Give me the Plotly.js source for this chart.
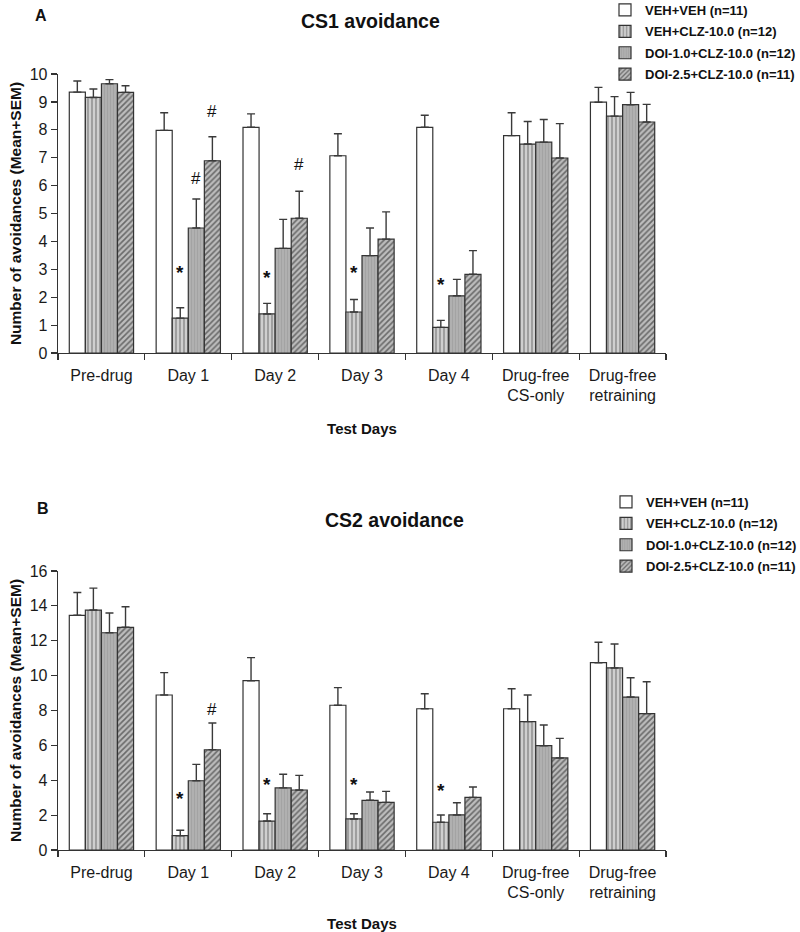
<!DOCTYPE html>
<html>
<head>
<meta charset="utf-8">
<script src="https://cdn.plot.ly/plotly-3.0.1.min.js"></script>
<style>
html,body{margin:0;padding:0;background:#fff;}
#chart{width:800px;height:932px;}
</style>
</head>
<body>
<div id="chart"></div>
<script>
// ---------- data ----------
const categories = ['Pre-drug','Day 1','Day 2','Day 3','Day 4','Drug-free<br>CS-only','Drug-free<br>retraining'];
const groups = ['VEH+VEH (n=11)','VEH+CLZ-10.0 (n=12)','DOI-1.0+CLZ-10.0 (n=12)','DOI-2.5+CLZ-10.0 (n=11)'];

// Panel A: CS1 avoidance (mean, SEM)
const cs1_veh      = [9.35, 7.98, 8.09, 7.07, 8.09, 7.79, 8.99];
const cs1_veh_sem  = [0.40, 0.63, 0.48, 0.79, 0.43, 0.82, 0.53];
const cs1_clz      = [9.16, 1.25, 1.40, 1.47, 0.92, 7.49, 8.49];
const cs1_clz_sem  = [0.30, 0.37, 0.38, 0.45, 0.25, 0.81, 0.70];
const cs1_doi1     = [9.65, 4.48, 3.75, 3.49, 2.05, 7.56, 8.90];
const cs1_doi1_sem = [0.15, 1.04, 1.04, 0.99, 0.59, 0.81, 0.44];
const cs1_doi25     = [9.34, 6.89, 4.83, 4.08, 2.82, 6.99, 8.28];
const cs1_doi25_sem = [0.24, 0.86, 0.97, 0.98, 0.85, 1.23, 0.63];

// Panel B: CS2 avoidance (mean, SEM)
const cs2_veh      = [13.46, 8.89, 9.71, 8.30, 8.10, 8.10, 10.74];
const cs2_veh_sem  = [1.31, 1.28, 1.32, 1.01, 0.86, 1.15, 1.17];
const cs2_clz      = [13.76, 0.82, 1.66, 1.78, 1.59, 7.36, 10.44];
const cs2_clz_sem  = [1.26, 0.31, 0.42, 0.30, 0.42, 1.53, 1.37];
const cs2_doi1     = [12.46, 3.97, 3.56, 2.85, 2.01, 5.98, 8.77];
const cs2_doi1_sem = [1.13, 0.94, 0.78, 0.48, 0.70, 1.19, 1.11];
const cs2_doi25     = [12.77, 5.75, 3.44, 2.73, 3.02, 5.28, 7.82];
const cs2_doi25_sem = [1.18, 1.53, 0.84, 0.63, 0.59, 1.12, 1.83];

// significance marks: category index, group index, symbol, label height (data units)
const cs1MarkCat    = [1, 1, 1, 2, 2, 3, 4];
const cs1MarkGroup  = [1, 2, 3, 1, 3, 1, 1];
const cs1MarkSymbol = ['*', '#', '#', '*', '#', '*', '*'];
const cs1MarkY      = [2.87, 6.27, 8.65, 2.69, 6.74, 2.87, 2.44];

const cs2MarkCat    = [1, 1, 2, 3, 4];
const cs2MarkGroup  = [1, 3, 1, 1, 1];
const cs2MarkSymbol = ['*', '#', '*', '*', '*'];
const cs2MarkY      = [2.96, 8.03, 3.77, 3.77, 3.40];

// ---------- styling ----------
const W = 800, H = 932, ML = 58, MR = 134;
const BARGAP = 0.26;
const FONT = 'Liberation Sans, Arial, sans-serif';
const edge = '#333333';

const styles = [
  {color:'#ffffff', pattern:{shape:''}},
  {color:'#cfcfcf', pattern:{shape:'|', fgcolor:'#8a8a8a', bgcolor:'#cfcfcf', size:4, solidity:0.35, fillmode:'replace'}},
  {color:'#ababab', pattern:{shape:'|', fgcolor:'#a2a2a2', bgcolor:'#b0b0b0', size:3, solidity:0.3, fillmode:'replace'}},
  {color:'#b4b4b4', pattern:{shape:'/', fgcolor:'#6a6a6a', bgcolor:'#bdbdbd', size:4, solidity:0.4, fillmode:'replace'}}
];

const setA = [[cs1_veh, cs1_veh_sem],[cs1_clz, cs1_clz_sem],[cs1_doi1, cs1_doi1_sem],[cs1_doi25, cs1_doi25_sem]];
const setB = [[cs2_veh, cs2_veh_sem],[cs2_clz, cs2_clz_sem],[cs2_doi1, cs2_doi1_sem],[cs2_doi25, cs2_doi25_sem]];

function makeTraces(set, xa, ya, legendName, prefix){
  return set.map((d, i) => ({
    type:'bar', x: categories, y: d[0], name: groups[i],
    xaxis: xa, yaxis: ya, legend: legendName, legendgroup: prefix + i,
    marker: {color: styles[i].color, pattern: styles[i].pattern, line:{color: edge, width:1.2}},
    error_y: {type:'data', array: d[1], arrayminus: d[1].map(() => 0), symmetric:false,
              color:'#3a3a3a', thickness:1.4, width:4},
    hoverinfo:'x+y+name'
  }));
}

const traces = makeTraces(setA, 'x', 'y', 'legend', 'a').concat(makeTraces(setB, 'x2', 'y2', 'legend2', 'b'));

// pixel-to-paper helpers (paper spans the full page: zero margins top/bottom)
const py = p => 1 - p / H;
const plotW = W - ML - MR;
const catW = plotW / categories.length;
const barW = catW * (1 - BARGAP) / groups.length;

function marks(cat, grp, sym, yv, xa, ya){
  return cat.map((c, k) => ({
    xref: xa, yref: ya, x: categories[c], y: yv[k], text: sym[k],
    xshift: (grp[k] - (groups.length - 1) / 2) * barW,
    showarrow:false, yanchor:'middle',
    font:{family:FONT, size: sym[k] === '*' ? 19 : 17, color:'#111', weight: sym[k] === '*' ? 'bold' : 'normal'}
  }));
}

const axisCommon = {
  showline:true, linecolor: edge, linewidth:1.3, showgrid:false, zeroline:false,
  ticks:'outside', tickcolor: edge, tickwidth:1.2,
  tickfont:{family:FONT, size:16, color:'#1a1a1a'}
};

const xCommon = Object.assign({}, axisCommon, {
  type:'category', tickson:'boundaries', ticklen:6, ticklabelstandoff:7,
  title:{text:'<b>Test Days</b>', font:{family:FONT, size:15, color:'#111'}, standoff:20}
});
const yCommon = Object.assign({}, axisCommon, {
  ticklen:6,
  title:{text:'<b>Number of avoidances (Mean+SEM)</b>', font:{family:FONT, size:15.5, color:'#111'}, standoff:4}
});

const legendCommon = {
  xref:'paper', yref:'paper', xanchor:'left', yanchor:'top',
  font:{family:FONT, size:13, color:'#111', weight:'bold'},
  bgcolor:'rgba(0,0,0,0)', borderwidth:0, itemwidth:30, tracegroupgap:1.5,
  traceorder:'grouped', itemclick:false, itemdoubleclick:false
};

const layout = {
  width: W, height: H,
  margin:{l: ML, r: MR, t: 0, b: 0, autoexpand:false},
  paper_bgcolor:'#fff', plot_bgcolor:'#fff',
  barmode:'group', bargap: BARGAP, bargroupgap: 0,
  font:{family:FONT},
  xaxis: Object.assign({}, xCommon, {anchor:'y', domain:[0,1]}),
  yaxis: Object.assign({}, yCommon, {anchor:'x', domain:[py(353), py(74)], range:[0,10], dtick:1}),
  xaxis2: Object.assign({}, xCommon, {anchor:'y2', domain:[0,1]}),
  yaxis2: Object.assign({}, yCommon, {anchor:'x2', domain:[py(850), py(571)], range:[0,16], dtick:2}),
  legend: Object.assign({}, legendCommon, {x:(605 - ML) / plotW, y: py(-5)}),
  legend2: Object.assign({}, legendCommon, {x:(606 - ML) / plotW, y: py(487)}),
  annotations: [
    {xref:'paper', yref:'paper', x:(370 - ML) / plotW, y: py(21), text:'<b>CS1 avoidance</b>', showarrow:false,
     font:{family:FONT, size:19.5, color:'#111'}, xanchor:'center', yanchor:'middle'},
    {xref:'paper', yref:'paper', x:(394 - ML) / plotW, y: py(520), text:'<b>CS2 avoidance</b>', showarrow:false,
     font:{family:FONT, size:19.5, color:'#111'}, xanchor:'center', yanchor:'middle'},
    {xref:'paper', yref:'paper', x:(41 - ML) / plotW, y: py(15), text:'<b>A</b>', showarrow:false,
     font:{family:FONT, size:16, color:'#111'}, xanchor:'center', yanchor:'middle'},
    {xref:'paper', yref:'paper', x:(43 - ML) / plotW, y: py(508), text:'<b>B</b>', showarrow:false,
     font:{family:FONT, size:16, color:'#111'}, xanchor:'center', yanchor:'middle'}
  ].concat(marks(cs1MarkCat, cs1MarkGroup, cs1MarkSymbol, cs1MarkY, 'x', 'y'))
   .concat(marks(cs2MarkCat, cs2MarkGroup, cs2MarkSymbol, cs2MarkY, 'x2', 'y2'))
};

Plotly.newPlot('chart', traces, layout, {displayModeBar:false, staticPlot:true});
</script>
</body>
</html>
